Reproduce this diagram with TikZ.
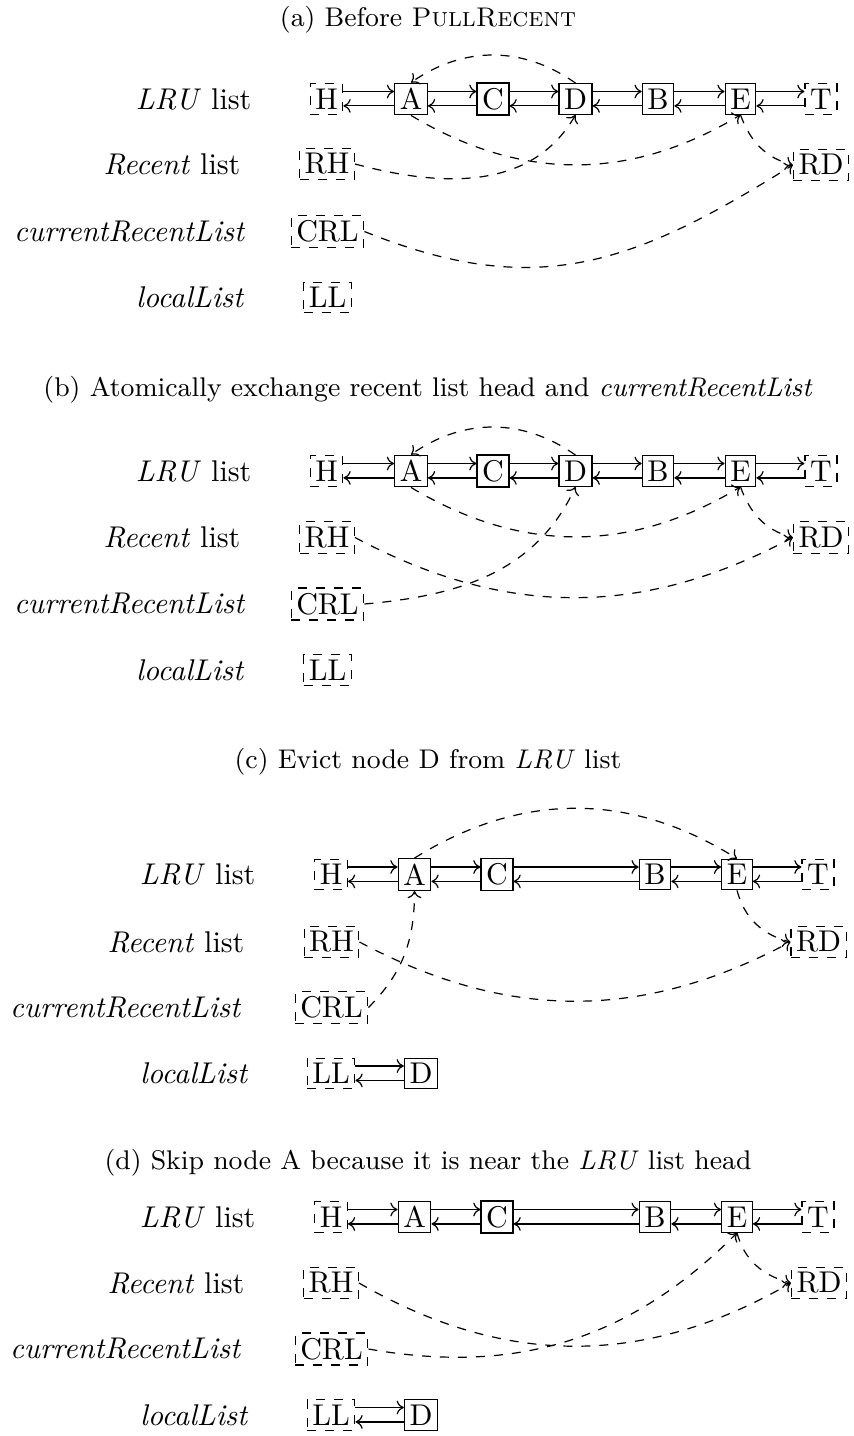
\documentclass[tikz,border=0pt]{standalone}
\usetikzlibrary{arrows.meta}
\tikzset{
  >={Computer Modern Rightarrow[length=2.4pt, width=4.6pt]},
  lnode/.style={draw, line width=0.4pt, inner sep=1.7pt},
  dnode/.style={draw, dashed, line width=0.4pt, inner sep=1.7pt},
  lab/.style={anchor=east, inner sep=0pt},
  ttl/.style={inner sep=0pt, font=\small},
  ptr/.style={->, dashed},
}
\newcommand{\dlink}[2]{%
  \draw[->] ([yshift=2.5pt]#1.east) -- ([yshift=2.5pt]#2.west);
  \draw[->] ([yshift=-2.3pt]#2.west) -- ([yshift=-2.3pt]#1.east);}
\begin{document}
\begin{tikzpicture}[x=0.33333pt, y=0.33333pt]
\useasboundingbox (0,0) rectangle (853,-1436);

% ---------------- (a)
\node[ttl] (ta) at (428,-20) {(a) Before \textsc{PullRecent}};
\node[lab] (la1) at (252,-99) {\emph{LRU} list};
\node[lab] (la2) at (241,-164) {\emph{Recent} list};
\node[lab] (la3) at (246,-231.5) {\emph{currentRecentList}};
\node[lab] (la4) at (245,-297.5) {\emph{localList}};
\node[dnode] (aH) at (326.5,-99) {H};
\node[lnode] (aA) at (411,-99) {A};
\node[lnode] (aC) at (493,-99) {C};
\node[lnode] (aD) at (575.5,-99) {D};
\node[lnode] (aB) at (658,-99) {B};
\node[lnode] (aE) at (740.5,-99) {E};
\node[dnode] (aT) at (821,-99) {T};
\node[dnode] (aRH) at (327,-164) {RH};
\node[dnode] (aRD) at (821,-165) {RD};
\node[dnode] (aCRL) at (327.5,-231.5) {CRL};
\node[dnode] (aLL) at (327.5,-297.5) {LL};
\dlink{aH}{aA}\dlink{aA}{aC}\dlink{aC}{aD}\dlink{aD}{aB}\dlink{aB}{aE}\dlink{aE}{aT}
\draw[ptr] (aD.north) to[bend right=35] (aA.north);
\draw[ptr] (aA.south) to[bend right=31] (aE.south);
\draw[ptr] (aRH.east) to[out=-15, in=-120] (aD.south);
\draw[ptr] (aE.south) to[out=-70, in=165] (aRD.west);
\draw[ptr] (aCRL.east) to[out=-22, in=-148, looseness=1.1] (aRD.west);

% ---------------- (b)
\node[ttl] (tb) at (428,-390) {(b) Atomically exchange recent list head and \emph{currentRecentList}};
\node[lab] (lb1) at (252,-471) {\emph{LRU} list};
\node[lab] (lb2) at (241,-537.5) {\emph{Recent} list};
\node[lab] (lb3) at (246,-604) {\emph{currentRecentList}};
\node[lab] (lb4) at (245,-670) {\emph{localList}};
\node[dnode] (bH) at (326.5,-471) {H};
\node[lnode] (bA) at (411,-471) {A};
\node[lnode] (bC) at (493,-471) {C};
\node[lnode] (bD) at (575.5,-471) {D};
\node[lnode] (bB) at (658,-471) {B};
\node[lnode] (bE) at (740.5,-471) {E};
\node[dnode] (bT) at (821,-471) {T};
\node[dnode] (bRH) at (327,-537.5) {RH};
\node[dnode] (bRD) at (821,-537.5) {RD};
\node[dnode] (bCRL) at (327.5,-604) {CRL};
\node[dnode] (bLL) at (327.5,-670) {LL};
\dlink{bH}{bA}\dlink{bA}{bC}\dlink{bC}{bD}\dlink{bD}{bB}\dlink{bB}{bE}\dlink{bE}{bT}
\draw[ptr] (bD.north) to[bend right=35] (bA.north);
\draw[ptr] (bA.south) to[bend right=31] (bE.south);
\draw[ptr] (bE.south) to[out=-70, in=165] (bRD.west);
\draw[ptr] (bRH.east) to[bend right=28] (bRD.west);
\draw[ptr] (bCRL.east) to[out=5, in=-115] (bD.south);

% ---------------- (c)
\node[ttl] (tc) at (428,-762) {(c) Evict node D from \emph{LRU} list};
\node[lab] (lc1) at (256,-874.5) {\emph{LRU} list};
\node[lab] (lc2) at (245,-942) {\emph{Recent} list};
\node[lab] (lc3) at (242,-1007.5) {\emph{currentRecentList}};
\node[lab] (lc4) at (249,-1073.5) {\emph{localList}};
\node[dnode] (cH) at (331,-874.5) {H};
\node[lnode] (cA) at (414.5,-874.5) {A};
\node[lnode] (cC) at (497,-874.5) {C};
\node[lnode] (cB) at (655,-874.5) {B};
\node[lnode] (cE) at (737,-874.5) {E};
\node[dnode] (cT) at (818,-874.5) {T};
\node[dnode] (cRH) at (331.5,-942) {RH};
\node[dnode] (cRD) at (818.5,-942) {RD};
\node[dnode] (cCRL) at (331.5,-1007.5) {CRL};
\node[dnode] (cLL) at (331,-1073.5) {LL};
\node[lnode] (cD) at (421,-1073.5) {D};
\dlink{cH}{cA}\dlink{cA}{cC}\dlink{cC}{cB}\dlink{cB}{cE}\dlink{cE}{cT}\dlink{cLL}{cD}
\draw[ptr] (cA.north) to[bend left=32] (cE.north);
\draw[ptr] (cE.south) to[out=-75, in=165] (cRD.west);
\draw[ptr] (cRH.east) to[bend right=28] (cRD.west);
\draw[ptr] (cCRL.east) to[out=45, in=-90] (cA.south);

% ---------------- (d)
\node[ttl] (td) at (428,-1163) {(d) Skip node A because it is near the \emph{LRU} list head};
\node[lab] (ld1) at (256,-1217) {\emph{LRU} list};
\node[lab] (ld2) at (245,-1283) {\emph{Recent} list};
\node[lab] (ld3) at (242,-1349) {\emph{currentRecentList}};
\node[lab] (ld4) at (249,-1415) {\emph{localList}};
\node[dnode] (dH) at (331,-1217) {H};
\node[lnode] (dA) at (414.5,-1217) {A};
\node[lnode] (dC) at (497,-1217) {C};
\node[lnode] (dB) at (655,-1217) {B};
\node[lnode] (dE) at (737,-1217) {E};
\node[dnode] (dT) at (818,-1217) {T};
\node[dnode] (dRH) at (331,-1283) {RH};
\node[dnode] (dRD) at (819,-1283) {RD};
\node[dnode] (dCRL) at (331.5,-1349) {CRL};
\node[dnode] (dLL) at (331,-1415) {LL};
\node[lnode] (dD) at (421,-1415) {D};
\dlink{dH}{dA}\dlink{dA}{dC}\dlink{dC}{dB}\dlink{dB}{dE}\dlink{dE}{dT}\dlink{dLL}{dD}
\draw[ptr] (dE.south) to[out=-75, in=165] (dRD.west);
\draw[ptr] (dRH.east) to[bend right=30] (dRD.west);
\draw[ptr] (dCRL.east) to[out=-10, in=-135] (dE.south);
\end{tikzpicture}
\end{document}
